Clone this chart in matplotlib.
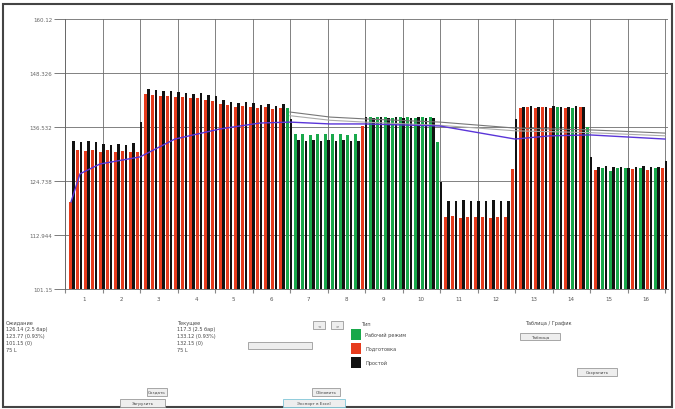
import numpy as np
import matplotlib.pyplot as plt
from matplotlib.patches import Rectangle

# 16 periods, 5 slots each: a coloured bar (state) and a black bar per slot
periods = [str(i) for i in range(1, 17)]
y_ticks = [101.15, 112.944, 124.738, 136.532, 148.326, 160.12]
y_tick_labels = ["101.15", "112.944", "124.738", "136.532", "148.326", "160.12"]

state_vals = [
    120.2, 131.5, 131.3, 131.5, 131.1,   131.4, 131.0, 131.3, 131.1, 131.0,
    143.7, 143.5, 143.3, 143.2, 143.0,   143.0, 142.8, 142.9, 142.5, 142.3,
    141.6, 141.3, 141.0, 141.1, 140.9,   140.6, 140.8, 140.5, 140.7, 140.7,
    134.9, 135.0, 134.8, 135.0, 134.9,   134.9, 135.1, 134.8, 135.0, 136.8,
    138.7, 138.8, 138.7, 138.6, 138.7,   138.7, 138.6, 138.8, 138.7, 133.3,
    116.8, 117.0, 116.7, 116.9, 116.8,   116.9, 116.7, 116.8, 116.9, 127.4,
    140.7, 140.8, 140.6, 140.8, 140.7,   140.8, 140.6, 140.7, 140.8, 136.6,
    127.2, 127.5, 127.0, 127.6, 127.5,   127.4, 127.6, 127.2, 127.5, 127.5,
]
black_vals = [
    133.5, 133.3, 133.4, 133.2, 132.8,   132.6, 132.9, 132.7, 133.0, 137.6,
    144.8, 144.6, 144.4, 144.3, 144.2,   144.0, 143.8, 143.9, 143.6, 143.3,
    142.4, 142.0, 141.8, 141.9, 141.7,   141.4, 141.5, 141.2, 141.5, 138.3,
    133.6, 133.4, 133.7, 133.5, 133.6,   133.5, 133.6, 133.4, 133.5, 138.7,
    138.6, 138.7, 138.5, 138.7, 138.6,   138.6, 138.7, 138.6, 138.5, 124.5,
    120.4, 120.3, 120.5, 120.4, 120.3,   120.4, 120.5, 120.3, 120.4, 138.3,
    141.0, 141.1, 140.9, 141.0, 141.1,   141.0, 140.9, 141.1, 140.8, 130.0,
    127.8, 128.0, 127.7, 127.9, 127.6,   127.9, 128.0, 127.8, 127.9, 129.1,
]
# R = red, G = green
state_codes = (
    "RRRRR" "RRRRR" "RRRRR" "RRRRR" "RRRRR" "RRRRG"
    "GGGGG" "GGGGR" "GGGGG" "GGGGG"
    "RRRRR" "RRRRR" "RRRRR" "GRGRG"
    "RGGGG" "RGRGR"
)

# trend lines (x in period units)
blue_x = [0.16, 0.4, 0.93, 2.0, 2.93, 4.13, 5.2, 6.0, 7.07, 8.0, 10.0, 12.0, 12.93, 14.0, 16.0]
blue_y = [120.15, 126.3, 128.45, 130.0, 133.9, 136.1, 137.4, 137.6, 137.2, 137.2, 136.75, 133.9, 134.6, 134.8, 133.9]
gray1_x = [6.0, 7.07, 8.0, 10.0, 12.0, 14.0, 16.0]
gray1_y = [139.8, 138.7, 138.3, 137.6, 136.3, 135.9, 135.2]
gray2_y = [139.0, 138.0, 137.6, 136.9, 135.7, 135.3, 134.6]

colors = {"R": "#e63b1d", "G": "#18a84a", "K": "#111111"}

fig = plt.figure(figsize=(6.75, 4.1), dpi=100)
ax = fig.add_axes([65 / 675, 120 / 410, 603 / 675, 270 / 410])

slots = np.arange(len(state_vals))
x_state = slots * 0.2 + 0.14
x_black = slots * 0.2 + 0.23
bottom = y_ticks[0]
ax.bar(x_state, np.array(state_vals) - bottom, bottom=bottom, width=0.072,
       color=[colors[c] for c in state_codes], zorder=3)
ax.bar(x_black, np.array(black_vals) - bottom, bottom=bottom, width=0.072,
       color=colors["K"], zorder=3)

ax.plot(gray1_x, gray1_y, color="#777777", lw=0.8, zorder=4)
ax.plot(gray1_x, gray2_y, color="#aaaaaa", lw=0.8, zorder=4)
ax.plot(blue_x, blue_y, color="#5a35d8", lw=1.0, zorder=5)

ax.set_xlim(0, 16.08)
ax.set_ylim(y_ticks[0], y_ticks[-1])
ax.set_yticks(y_ticks)
ax.set_yticklabels(y_tick_labels, fontsize=4, color="#666666")
ax.set_xticks(np.arange(17))
ax.set_xticklabels([])
ax.set_xticks(np.arange(16) + 0.5, minor=True)
ax.set_xticklabels(periods, minor=True, fontsize=4, color="#555555")
ax.tick_params(axis="x", which="major", length=3, color="#888888")
ax.tick_params(axis="x", which="minor", length=0, pad=5)
ax.tick_params(axis="y", length=8, color="#666666", width=0.6, pad=1)
ax.grid(True, which="major", color="#6d6d6d", lw=0.6, zorder=0)
for s in ["top", "right"]:
    ax.spines[s].set_visible(False)
ax.spines["left"].set_color("#666666")
ax.spines["bottom"].set_color("#666666")
ax.spines["left"].set_linewidth(0.6)
ax.spines["bottom"].set_linewidth(0.6)

# outer frame of the window
fig.patches.append(Rectangle((3 / 675, 2 / 410), 669 / 675, 403 / 410,
                             transform=fig.transFigure, fill=False,
                             ec="#444444", lw=1.5))


def ft(x, y, s, **kw):
    kw.setdefault("fontsize", 3.6)
    kw.setdefault("color", "#444444")
    fig.text(x / 675, 1 - y / 410, s, va="center", **kw)


def button(x, y, w, h, s="", ec="#999999"):
    fig.patches.append(Rectangle((x / 675, 1 - (y + h) / 410), w / 675, h / 410,
                                 transform=fig.transFigure, fc="#eeeeee",
                                 ec=ec, lw=0.6))
    if s:
        fig.text((x + w / 2) / 675, 1 - (y + h / 2) / 410, s, fontsize=3,
                 color="#444444", ha="center", va="center")


# left info blocks
left_block = ["Ожидание", "126.14 (2.5 бар)", "123.77 (0.93%)", "101.15 (0)", "75 L"]
mid_block = ["Текущее", "117.3 (2.5 бар)", "133.12 (0.93%)", "132.15 (0)", "75 L"]
for i, s in enumerate(left_block):
    ft(6, 323 + i * 7, s)
for i, s in enumerate(mid_block):
    ft(177, 323 + i * 7, s)

button(313, 322, 12, 8, "<")
button(331, 322, 12, 8, ">")
button(248, 343, 64, 7)

# legend
ft(361, 324, "Тип")
legend_items = [("G", "Рабочий режим"), ("R", "Подготовка"), ("K", "Простой")]
for i, (c, s) in enumerate(legend_items):
    fig.patches.append(Rectangle((351 / 675, 1 - (341 + i * 14) / 410), 10 / 675, 11 / 410,
                                 transform=fig.transFigure, fc=colors[c], ec="none"))
    ft(365, 335 + i * 14, s)

ft(525, 323, "Таблица / График")
button(520, 334, 40, 7, "Таблица")
button(577, 369, 40, 8, "Сохранить")

button(147, 389, 20, 8, "Создать")
button(120, 400, 45, 8, "Загрузить")
button(312, 389, 28, 8, "Обновить")
button(283, 400, 62, 8, "Экспорт в Excel", ec="#7fc6d8")

fig.savefig("out.png", dpi=100)
